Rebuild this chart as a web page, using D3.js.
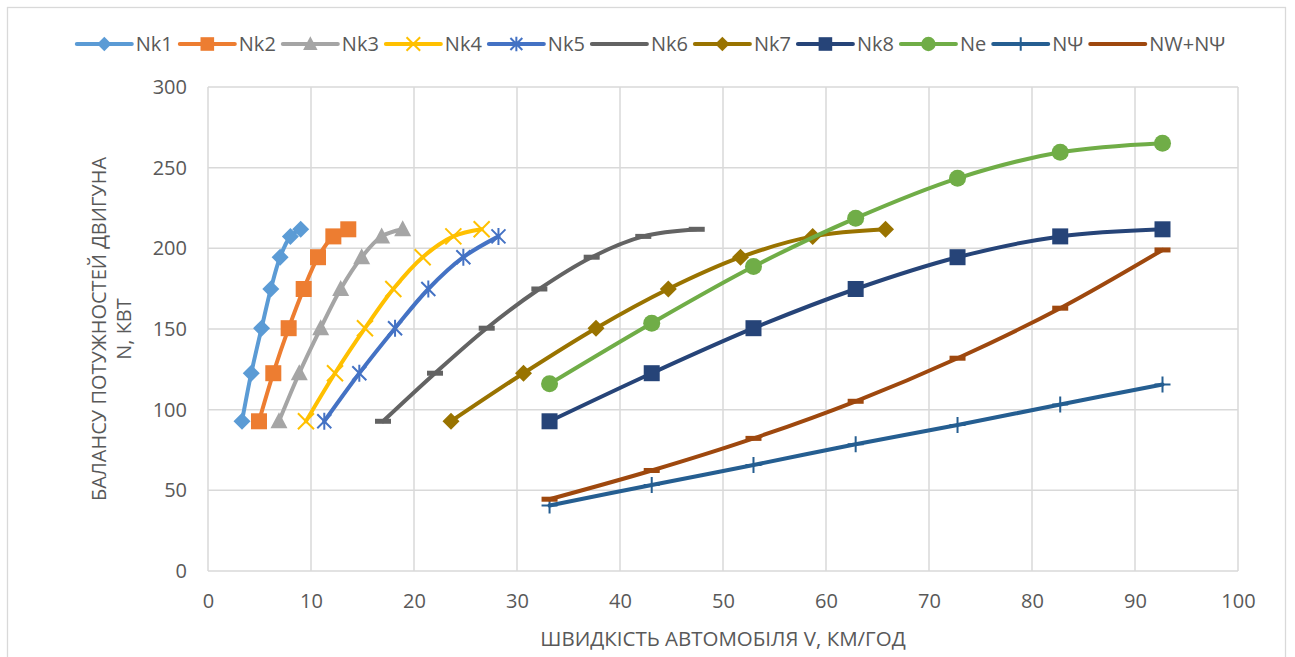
<!DOCTYPE html>
<html>
<head>
<meta charset="utf-8">
<script src="https://cdn.jsdelivr.net/npm/d3@7"></script>
<style>
  body { margin: 0; background: #fff; }
  text { font-family: "Open Sans", "Liberation Sans", sans-serif; fill: #595959; }
</style>
</head>
<body>
<svg id="chart" width="1295" height="657"></svg>
<script>
// Engine power balance: traction power in each gear, engine power and resistance power
const seriesNames = ["Nk1", "Nk2", "Nk3", "Nk4", "Nk5", "Nk6", "Nk7", "Nk8", "Ne", "NΨ", "NW+NΨ"];

// Power at the wheels (kW), shared by the gear curves
const nkPower = [92.8, 122.6, 150.5, 174.8, 194.5, 207.4, 211.8];

// Vehicle speed (km/h) in each gear
const nk1Speed = [3.3, 4.2, 5.2, 6.1, 7.0, 8.0, 9.0];
const nk2Speed = [4.95, 6.34, 7.83, 9.29, 10.68, 12.17, 13.62];
const nk3Speed = [6.89, 8.86, 10.94, 12.88, 14.92, 16.86, 18.9];
const nk4Speed = [9.51, 12.33, 15.24, 17.99, 20.84, 23.82, 26.57];
const nk5Speed = [11.29, 14.69, 18.16, 21.39, 24.79, 28.2];
const nk6Speed = [16.99, 22.04, 27.06, 32.17, 37.25, 42.26, 47.45];
const nk7Speed = [23.59, 30.63, 37.67, 44.69, 51.7, 58.71, 65.78];
const topSpeed = [33.16, 43.08, 52.96, 62.88, 72.77, 82.74, 92.67];

// Engine power and resistance power (kW) over top-gear speed
const nePower = [116.0, 153.6, 188.7, 218.7, 243.4, 259.5, 265.2];
const psiPower = [40.6, 53.3, 65.7, 78.6, 90.5, 103.2, 115.6];
const wPsiPower = [44.5, 62.3, 82.2, 105.2, 131.9, 162.9, 199.0];

const xTickValues = [0, 10, 20, 30, 40, 50, 60, 70, 80, 90, 100];
const yTickValues = [0, 50, 100, 150, 200, 250, 300];

const xTitle = "ШВИДКІСТЬ АВТОМОБІЛЯ V, КМ/ГОД";
const yTitleLines = ["БАЛАНСУ ПОТУЖНОСТЕЙ ДВИГУНА", "N, КВТ"];

const zip = (xs, ys) => xs.map((x, i) => [x, ys[i]]);

const series = [
  { name: seriesNames[0], pts: zip(nk1Speed, nkPower), color: "#5B9BD5", marker: "diamond" },
  { name: seriesNames[1], pts: zip(nk2Speed, nkPower), color: "#ED7D31", marker: "square" },
  { name: seriesNames[2], pts: zip(nk3Speed, nkPower), color: "#A5A5A5", marker: "triangle" },
  { name: seriesNames[3], pts: zip(nk4Speed, nkPower), color: "#FFC000", marker: "x" },
  { name: seriesNames[4], pts: zip(nk5Speed, nkPower), color: "#4472C4", marker: "star" },
  { name: seriesNames[5], pts: zip(nk6Speed, nkPower), color: "#636363", marker: "dash" },
  { name: seriesNames[6], pts: zip(nk7Speed, nkPower), color: "#997300", marker: "diamond" },
  { name: seriesNames[7], pts: zip(topSpeed, nkPower), color: "#264478", marker: "square" },
  { name: seriesNames[8], pts: zip(topSpeed, nePower), color: "#70AD47", marker: "circle" },
  { name: seriesNames[9], pts: zip(topSpeed, psiPower), color: "#255E91", marker: "plus" },
  { name: seriesNames[10], pts: zip(topSpeed, wPsiPower), color: "#9E480E", marker: "dash" }
];

const svg = d3.select("#chart");
const W = 1295, H = 657;
const plot = { left: 208, right: 1238, top: 87, bottom: 571 };

svg.append("rect").attr("width", W).attr("height", H).attr("fill", "#fff");
svg.append("rect")
  .attr("x", 7.5).attr("y", 7.5).attr("width", 1278).attr("height", 670)
  .attr("fill", "none").attr("stroke", "#D9D9D9").attr("stroke-width", 1.3);

const x = d3.scaleLinear().domain([0, 100]).range([plot.left, plot.right]);
const y = d3.scaleLinear().domain([0, 300]).range([plot.bottom, plot.top]);

// Gridlines
const grid = svg.append("g");
grid.selectAll("line.v").data(xTickValues).join("line")
  .attr("x1", d => x(d)).attr("x2", d => x(d))
  .attr("y1", plot.top).attr("y2", plot.bottom)
  .attr("stroke", "#D9D9D9").attr("stroke-width", 1.5);
grid.selectAll("line.h").data(yTickValues).join("line")
  .attr("y1", d => y(d)).attr("y2", d => y(d))
  .attr("x1", plot.left).attr("x2", plot.right)
  .attr("stroke", "#D9D9D9").attr("stroke-width", 1.5);

// Axes (labels only; lines come from the grid)
const xAxis = svg.append("g")
  .attr("transform", `translate(0,${plot.bottom})`)
  .call(d3.axisBottom(x).tickValues(xTickValues).tickSize(0).tickPadding(23));
const yAxis = svg.append("g")
  .attr("transform", `translate(${plot.left},0)`)
  .call(d3.axisLeft(y).tickValues(yTickValues).tickSize(0).tickPadding(21));
[xAxis, yAxis].forEach(a => {
  a.select(".domain").remove();
  a.selectAll("text").attr("font-size", 20).attr("fill", "#595959")
    .attr("font-family", "'Open Sans', 'Liberation Sans', sans-serif");
});

// Axis titles
svg.append("text")
  .attr("x", (plot.left + plot.right) / 2).attr("y", 646)
  .attr("text-anchor", "middle").attr("font-size", 20.5)
  .text(xTitle);
const yt = svg.append("text")
  .attr("transform", `translate(0,${(plot.top + plot.bottom) / 2}) rotate(-90)`)
  .attr("text-anchor", "middle").attr("font-size", 20);
yTitleLines.forEach((t, i) => {
  yt.append("tspan").attr("x", 0).attr("y", 106 + i * 25).text(t);
});

// Marker shapes
function drawMarker(g, type, color, s = 1) {
  switch (type) {
    case "diamond":
      g.append("path").attr("d", `M0,${-8.5*s}L${8.5*s},0L0,${8.5*s}L${-8.5*s},0Z`).attr("fill", color);
      break;
    case "square":
      g.append("rect").attr("x", -8*s).attr("y", -8*s).attr("width", 16*s).attr("height", 16*s).attr("fill", color);
      break;
    case "triangle":
      g.append("path").attr("d", `M0,${-9*s}L${8.5*s},${7*s}L${-8.5*s},${7*s}Z`).attr("fill", color);
      break;
    case "circle":
      g.append("circle").attr("r", 8.5*s).attr("fill", color);
      break;
    case "x":
      g.append("path").attr("d", `M${-8*s},${-8*s}L${8*s},${8*s}M${8*s},${-8*s}L${-8*s},${8*s}`)
        .attr("stroke", color).attr("stroke-width", 2);
      break;
    case "star":
      g.append("path").attr("d", `M${-7*s},${-7*s}L${7*s},${7*s}M${7*s},${-7*s}L${-7*s},${7*s}M0,${-8.5*s}L0,${8.5*s}`)
        .attr("stroke", color).attr("stroke-width", 2);
      break;
    case "dash":
      g.append("rect").attr("x", -8*s).attr("y", -2.5*s).attr("width", 16*s).attr("height", 5*s).attr("fill", color);
      break;
    case "plus":
      g.append("path").attr("d", `M0,${-8*s}L0,${8*s}M${-8*s},0L${8*s},0`)
        .attr("stroke", color).attr("stroke-width", 2);
      break;
  }
}

// Series lines and markers
const line = d3.line().x(d => x(d[0])).y(d => y(d[1])).curve(d3.curveCatmullRom.alpha(0.5));
series.forEach(s => {
  const g = svg.append("g");
  g.append("path").datum(s.pts).attr("d", line)
    .attr("fill", "none").attr("stroke", s.color).attr("stroke-width", 4)
    .attr("stroke-linejoin", "round").attr("stroke-linecap", "round");
  g.selectAll("g.m").data(s.pts).join("g")
    .attr("transform", d => `translate(${x(d[0])},${y(d[1])})`)
    .each(function () { drawMarker(d3.select(this), s.marker, s.color); });
});

// Legend
const legend = svg.append("g");
const lineLen = 55, gapText = 4, gapItem = 7, legendY = 44;
let cursor = 0;
const items = series.map(s => {
  const g = legend.append("g");
  g.append("line").attr("x1", 0).attr("x2", lineLen).attr("y1", 0).attr("y2", 0)
    .attr("stroke", s.color).attr("stroke-width", 4).attr("stroke-linecap", "round");
  const mg = g.append("g").attr("transform", `translate(${lineLen / 2},0)`);
  if (s.marker !== "dash") drawMarker(mg, s.marker, s.color, 0.85);
  const t = g.append("text").attr("x", lineLen + gapText).attr("y", 0)
    .attr("dy", "0.35em").attr("font-size", 20).text(s.name);
  const w = lineLen + gapText + t.node().getComputedTextLength();
  g.attr("transform", `translate(${cursor},${legendY})`);
  cursor += w + gapItem;
  return g;
});
const totalW = cursor - gapItem;
legend.attr("transform", `translate(${651 - totalW / 2},0)`);
</script>
</body>
</html>
